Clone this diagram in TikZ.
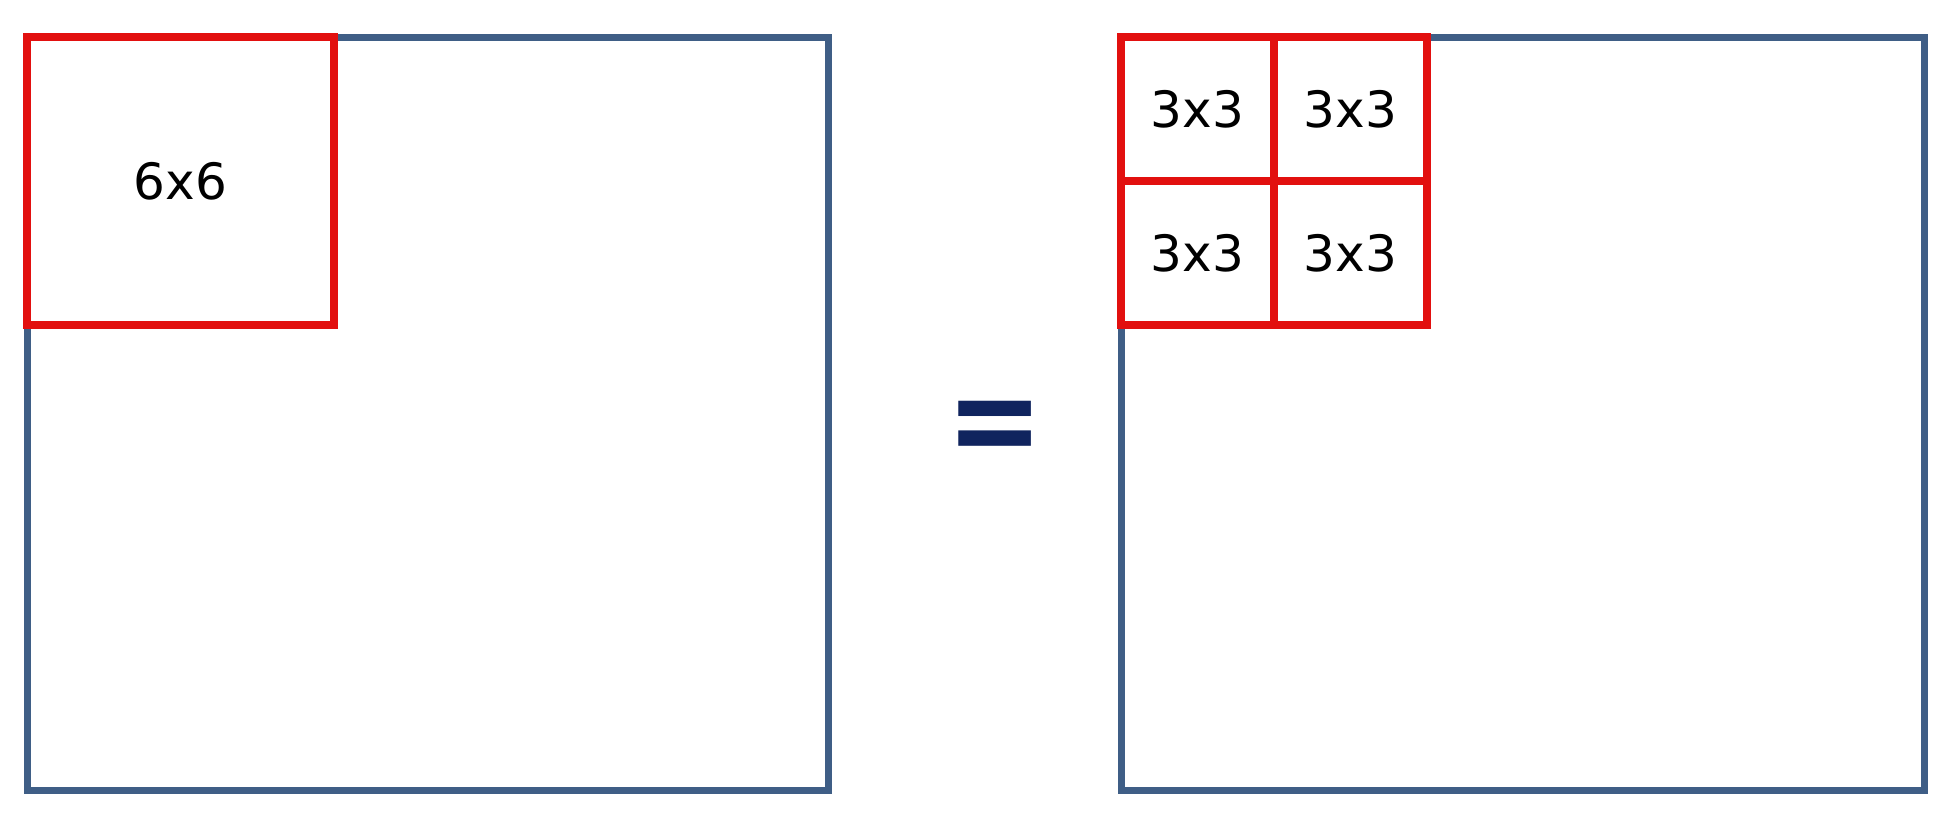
\documentclass[tikz,border=0pt]{standalone}
\usepackage{fontspec}
\setmainfont{DejaVu Sans}
\usetikzlibrary{positioning}
\definecolor{frameblue}{HTML}{3F5E86}
\definecolor{cellred}{HTML}{E2100F}
\definecolor{eqnavy}{HTML}{10245E}

\begin{document}
\begin{tikzpicture}[x=0.02cm,y=-0.02cm,
  bigframe/.style={draw=frameblue, line width=4pt, minimum width=16.03cm,
    minimum height=15.07cm, inner sep=0pt, outer sep=0pt},
  cell/.style={draw=cellred, line width=4.5pt, minimum width=3.06cm,
    minimum height=2.875cm, inner sep=0pt, outer sep=0pt,
    font=\fontsize{28.5}{32}\selectfont}]

  \useasboundingbox (0,0) rectangle (1960,825);

  \node (left) [bigframe] at (428,414) {};
  \node (right) [bigframe, minimum width=16.08cm] at (1523,414) {};

  \node (six) [cell, anchor=north west, minimum width=6.13cm,
               minimum height=5.75cm] at (left.north west) {6x6};

  \node (g11) [cell, anchor=north west] at (right.north west) {3x3};
  \node (g12) [cell, right=0pt of g11] {3x3};
  \node (g21) [cell, below=0pt of g11] {3x3};
  \node (g22) [cell, right=0pt of g21] {3x3};

  \node (eq) [text=eqnavy, font=\fontsize{66}{70}\selectfont\bfseries]
        at (995,433) {\scalebox{1}[1.15]{=}};

\end{tikzpicture}
\end{document}
